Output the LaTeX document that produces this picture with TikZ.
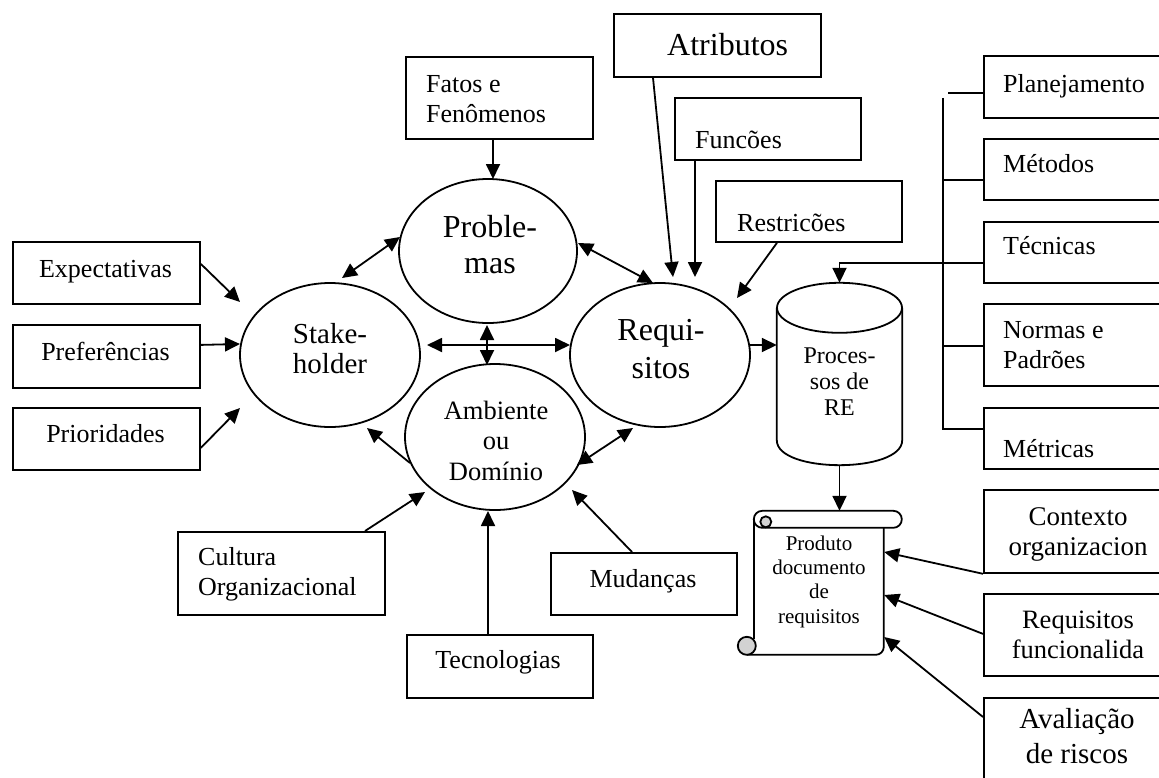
\documentclass[tikz,border=0pt]{standalone}
\usepackage{fontspec}
\setmainfont{Liberation Serif}
\usetikzlibrary{arrows.meta,calc,shapes.geometric}
\newcommand\fsz[2]{\fontsize{#1}{#2}\selectfont}
\tikzset{
  stroke/.style={line width=1.8pt},
  box/.style={draw, stroke, rectangle, inner sep=0pt, anchor=north west},
  blob/.style={draw, stroke, ellipse, inner sep=0pt},
  hold/.style={rectangle, inner sep=0pt},
  txt/.style={inner sep=0pt, font=\fsz{26}{30}},
  arr/.style={stroke, -{Triangle[length=15pt,width=14pt]}},
  darr/.style={stroke, {Triangle[length=15pt,width=14pt]}-{Triangle[length=15pt,width=14pt]}},
}
\begin{document}
\begin{tikzpicture}[x=1pt,y=-1pt]
\useasboundingbox (0,0) rectangle (1159,777);
\clip (0,0) rectangle (1159,777);

% central concepts (text anchored on the baseline of its last line)
\node[blob, minimum width=180pt, minimum height=144pt] (stk)  at (330,355) {};
\node[blob, minimum width=178pt, minimum height=144pt] (prob) at (488,251) {};
\node[blob, minimum width=180pt, minimum height=144pt] (req)  at (660,355) {};
\node[blob, minimum width=180pt, minimum height=146pt] (amb)  at (495,437) {};
\node[txt, font=\fsz{29}{30}, align=center, anchor=base] (stk-t)  at (330,373) {Stake-\\holder};
\node[txt, font=\fsz{32}{36}, align=center, anchor=base] (prob-t) at (490,273) {Proble-\\mas};
\node[txt, font=\fsz{32}{38}, align=center, anchor=base] (req-t)  at (661,378) {Requi-\\sitos};
\node[txt, font=\fsz{26.5}{30.5}, align=center, anchor=base] (amb-t) at (496,480) {Ambiente\\ou\\Domínio};

% left boxes
\node[box, minimum width=187pt, minimum height=62pt] (exp)  at (12,241) {};
\node[box, minimum width=187pt, minimum height=63pt] (pref) at (12,324) {};
\node[box, minimum width=187pt, minimum height=62pt] (pri)  at (12,407) {};
\node[txt, anchor=base] (exp-t)  at (105.5,277) {Expectativas};
\node[txt, anchor=base] (pref-t) at (105.5,360) {Preferências};
\node[txt, anchor=base] (pri-t)  at (105.5,442) {Prioridades};

% top boxes
\node[box, minimum width=187pt, minimum height=82pt] (fatos) at (405,56) {};
\node[box, minimum width=207pt, minimum height=63pt] (atrib) at (613,13) {};
\node[box, minimum width=186pt, minimum height=62pt] (func)  at (674,97) {};
\node[box, minimum width=186pt, minimum height=61pt] (restr) at (715,180) {};
\node[txt, align=left, anchor=base west] (fatos-t) at (426,122) {Fatos e\\Fenômenos};
\node[txt, font=\fsz{32}{36}, anchor=base west] (atrib-t) at (667,55) {Atributos};
\node[txt, anchor=base west] (func-t)  at (695,148) {Funcões};
\node[txt, anchor=base west] (restr-t) at (737,231) {Restricões};

% bottom boxes
\node[box, minimum width=207pt, minimum height=83pt] (cult)  at (177,531) {};
\node[box, minimum width=186pt, minimum height=63pt] (tecno) at (406,634) {};
\node[box, minimum width=186pt, minimum height=62pt] (mud)   at (550,552) {};
\node[txt, align=left, anchor=base west] (cult-t) at (198,595) {Cultura\\Organizacional};
\node[txt, anchor=base] (tecno-t) at (498,668) {Tecnologias};
\node[txt, anchor=base] (mud-t)   at (643,587) {Mudanças};

% right column
\node[box, minimum width=190pt, minimum height=62pt] (plan) at (983,55) {};
\node[box, minimum width=190pt, minimum height=61pt] (meto) at (983,138) {};
\node[box, minimum width=190pt, minimum height=61pt] (tecr) at (983,221) {};
\node[box, minimum width=190pt, minimum height=82pt] (norm) at (983,303) {};
\node[box, minimum width=190pt, minimum height=61pt] (metr) at (983,407) {};
\node[txt, anchor=base west] (plan-t) at (1003,92) {Planejamento};
\node[txt, anchor=base west] (meto-t) at (1003,172) {Métodos};
\node[txt, anchor=base west] (tecr-t) at (1003,254) {Técnicas};
\node[txt, align=left, anchor=base west] (norm-t) at (1003,368) {Normas e\\Padrões};
\node[txt, anchor=base west] (metr-t) at (1003,457) {Métricas};

\node[box, minimum width=190pt, minimum height=83pt] (ctx)  at (983,489) {};
\node[box, minimum width=190pt, minimum height=82pt] (rfun) at (983,593) {};
\node[box, minimum width=190pt, minimum height=82pt] (aval) at (983,697) {};
\node[txt, font=\fsz{27}{30}, align=center, anchor=base] (ctx-t)  at (1078,555) {Contexto\\organizacion};
\node[txt, font=\fsz{26.5}{30}, align=center, anchor=base] (rfun-t) at (1078,658) {Requisitos\\funcionalida};
\node[txt, font=\fsz{29}{35}, align=center, anchor=base] (aval-t) at (1077,763) {Avaliação\\de riscos};

% process store (cylinder)
\node[hold, minimum width=125pt, minimum height=182pt] (proc) at (839.5,374) {};
\coordinate (ctop) at ($(proc.north)+(0,25)$);
\draw[stroke] ($(proc.north west)+(0,25)$) -- ($(proc.south west)+(0,-25)$)
  .. controls ($(proc.south west)+(0,8.3)$) and ($(proc.south east)+(0,8.3)$) ..
  ($(proc.south east)+(0,-25)$) -- ($(proc.north east)+(0,25)$);
\draw[stroke] (ctop) ellipse [x radius=62.5, y radius=25];
\node[txt, font=\fsz{24}{26}, align=center, anchor=base] (proc-t) at (839.5,415) {Proces-\\sos de\\RE};

% requirements document (scroll)
\node[hold, minimum width=130pt, minimum height=144pt] (scroll) at (819,583) {};
\begin{scope}[shift={(scroll.north west)}]
  \draw[stroke, rounded corners=8.5pt] (0,0) rectangle (148,17);
  \draw[stroke] (0,8.5) -- (0,128);
  \draw[stroke, rounded corners=8pt] (130,17) -- (130,144) -- (-7,144);
  \draw[stroke, fill=gray!35] (-7,135) circle [radius=9];
  \draw[stroke, fill=gray!35] (12,11) circle [radius=5.5];
\end{scope}
\node[txt, font=\fsz{21}{24.3}, align=center, anchor=base] (scroll-t) at (819,623) {Produto\\documento\\de\\requisitos};

% inputs to Stakeholder
\draw[arr] ($(exp.east)+(0,-9)$) -- ($(stk.center)+(-90,-53)$);
\draw[arr] ($(pref.east)+(0,-11.5)$) -- ($(stk.center)+(-90,-11)$);
\draw[arr] ($(pri.east)+(0,9)$) -- ($(stk.center)+(-90,53)$);

% relations between the central concepts
\draw[darr] ($(stk.center)+(12,-77)$) -- ($(prob.center)+(-88,-14)$);
\draw[darr] ($(prob.center)+(90,-8)$) -- ($(req.center)+(-7,-72)$);
\draw[darr] ($(stk.center)+(97,-10)$) -- ($(req.center)+(-90,-10)$);
\draw[darr] ($(prob.center)+(-1,74)$) -- ($(amb.center)+(-8,-72)$);
\draw[arr]  ($(amb.center)+(-85,26)$) -- ($(stk.center)+(37,73)$);
\draw[darr] ($(amb.center)+(82,28)$) -- ($(req.center)+(-27,73)$);

% inputs to Ambiente
\draw[arr] ($(cult.north west)+(188,0)$) -- ($(amb.center)+(-70,55)$);
\draw[arr] ($(tecno.north west)+(82,0)$) -- ($(amb.center)+(-7,74)$);
\draw[arr] ($(mud.north west)+(82,0)$) -- ($(amb.center)+(77,53)$);

% inputs to Problemas and Requisitos
\draw[arr] ($(fatos.south west)+(88,0)$) -- ($(prob.center)+(5,-72)$);
\draw[arr] ($(atrib.south west)+(40,0)$) -- ($(req.center)+(13,-78)$);
\draw[arr] ($(func.south west)+(21,0)$) -- ($(req.center)+(35,-78)$);
\draw[arr] ($(restr.south west)+(62,0)$) -- ($(req.center)+(77,-57)$);

% process flow
\draw[arr] ($(req.center)+(90,-10)$) -- ($(proc.west)+(0,-29)$);
\draw[arr] ($(tecr.west)+(0,10.5)$) -| (proc.north);
\draw[arr] (proc.south) -- (proc.south |- scroll.north);

% bus joining the right column
\draw[stroke] ($(plan.west)+(0,6)$) -- ++(-35,0);
\draw[stroke] ($(plan.west)+(-40,11)$) -- ($(metr.west)+(-40,-9.5)$) -- ($(metr.west)+(0,-9.5)$);
\draw[stroke] ($(meto.west)+(-40,10.5)$) -- ($(meto.west)+(0,10.5)$);
\draw[stroke] ($(norm.west)+(-40,1)$) -- ($(norm.west)+(0,1)$);

% inputs to the document
\draw[arr] (ctx.south west) -- ($(scroll.east)+(0,-31)$);
\draw[arr] ($(rfun.west)+(0,-1)$) -- ($(scroll.east)+(0,12)$);
\draw[arr] ($(aval.north west)+(0,20)$) -- ($(scroll.east)+(0,54)$);
\end{tikzpicture}
\end{document}
